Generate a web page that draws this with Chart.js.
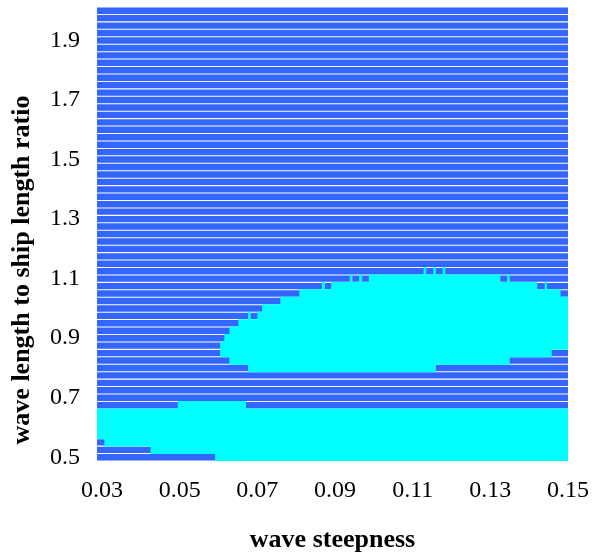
<!DOCTYPE html>
<html>
<head>
<meta charset="utf-8">
<script src="https://cdn.jsdelivr.net/npm/chart.js@4/dist/chart.umd.min.js"></script>
<style>
  html, body { margin: 0; padding: 0; background: #fff; }
  #wrap { width: 595px; height: 552px; }
</style>
</head>
<body>
<div id="wrap"><canvas id="grafico" width="595" height="552"></canvas></div>
<script>
'use strict';

// assi
const xTicks = [0.03, 0.05, 0.07, 0.09, 0.11, 0.13, 0.15];
const yTicks = [0.5, 0.7, 0.9, 1.1, 1.3, 1.5, 1.7, 1.9];
const xRange = [0.0287, 0.15];
const yRange = [0.4875, 2.0125];
const xTitle = 'wave steepness';
const yTitle = 'wave length to ship length ratio';

// righe della griglia (wave length / ship length)
const lambdaRows = [
  0.5, 0.525, 0.55, 0.575, 0.6, 0.625, 0.65, 0.675, 0.7, 0.725,
  0.75, 0.775, 0.8, 0.825, 0.85, 0.875, 0.9, 0.925, 0.95, 0.975,
  1.0, 1.025, 1.05, 1.075, 1.1, 1.125, 1.15, 1.175, 1.2, 1.225,
  1.25, 1.275, 1.3, 1.325, 1.35, 1.375, 1.4, 1.425, 1.45, 1.475,
  1.5, 1.525, 1.55, 1.575, 1.6, 1.625, 1.65, 1.675, 1.7, 1.725,
  1.75, 1.775, 1.8, 1.825, 1.85, 1.875, 1.9, 1.925, 1.95, 1.975, 2.0
];

// tratti ciano: [riga, steepness inizio, steepness fine]
const cyanRuns = [
  [0.5, 0.0591, 0.15],
  [0.525, 0.0425, 0.15],
  [0.55, 0.0306, 0.15],
  [0.575, 0.0287, 0.15],
  [0.6, 0.0287, 0.15],
  [0.625, 0.0287, 0.15],
  [0.65, 0.0287, 0.15],
  [0.675, 0.0495, 0.0671],
  [0.8, 0.0676, 0.1160],
  [0.825, 0.0628, 0.1350],
  [0.85, 0.0604, 0.1458],
  [0.875, 0.0604, 0.15],
  [0.9, 0.0615, 0.15],
  [0.925, 0.0628, 0.15],
  [0.95, 0.0651, 0.15],
  [0.975, 0.0676, 0.0683],
  [0.975, 0.0700, 0.15],
  [1.0, 0.0712, 0.15],
  [1.025, 0.0759, 0.15],
  [1.05, 0.0808, 0.1481],
  [1.075, 0.0866, 0.0874],
  [1.075, 0.0890, 0.1421],
  [1.075, 0.1440, 0.1446],
  [1.1, 0.0938, 0.0945],
  [1.1, 0.0962, 0.0970],
  [1.1, 0.0987, 0.1326],
  [1.1, 0.1343, 0.1350],
  [1.125, 0.1128, 0.1135],
  [1.125, 0.1153, 0.1160],
  [1.125, 0.1177, 0.1184]
];

const FONT = "'Liberation Serif', 'Times New Roman', serif";

// titolo asse y: nel riferimento e' spostato verso il basso rispetto al centro
const yTitlePlugin = {
  id: 'yTitle',
  afterDraw(chart) {
    const { ctx, chartArea } = chart;
    ctx.save();
    ctx.translate(22, (chartArea.top + chartArea.bottom) / 2 + 36);
    ctx.rotate(-Math.PI / 2);
    ctx.font = 'bold 26px ' + FONT;
    ctx.fillStyle = '#000';
    ctx.textAlign = 'center';
    ctx.textBaseline = 'middle';
    ctx.fillText(yTitle, 0, 0);
    ctx.restore();
  }
};

const ctx = document.getElementById('grafico').getContext('2d');

new Chart(ctx, {
  type: 'bar',
  data: {
    datasets: [
      {
        label: 'cyan',
        data: cyanRuns.map(r => ({ y: r[0], x: [r[1], r[2]] })),
        backgroundColor: '#00ffff',
        grouped: false,
        categoryPercentage: 1,
        barPercentage: 1.12
      },
      {
        label: 'blue',
        data: lambdaRows.map(r => ({ y: r, x: [xRange[0], xRange[1]] })),
        backgroundColor: '#3366ff',
        grouped: false,
        categoryPercentage: 1,
        barPercentage: 0.86
      }
    ]
  },
  plugins: [yTitlePlugin],
  options: {
    indexAxis: 'y',
    responsive: false,
    animation: false,
    layout: { padding: { left: 0, top: 7, right: 27, bottom: 0 } },
    plugins: { legend: { display: false }, tooltip: { enabled: false } },
    scales: {
      x: {
        type: 'linear',
        offset: false,
        min: xRange[0], max: xRange[1],
        afterBuildTicks: axis => { axis.ticks = xTicks.map(v => ({ value: v })); },
        afterFit: axis => { axis.height = 91; axis.paddingLeft = 0; axis.paddingRight = 0; },
        grid: { display: false, drawTicks: false, offset: false },
        border: { display: false },
        ticks: {
          color: '#000', padding: 15,
          font: { family: FONT, size: 24 },
          maxRotation: 0, autoSkip: false,
          callback: v => Number(v).toFixed(2)
        },
        title: {
          display: true, text: xTitle, color: '#000',
          font: { family: FONT, size: 26, weight: 'bold' },
          padding: { top: 0, bottom: -4 }
        }
      },
      y: {
        type: 'linear',
        offset: false,
        min: yRange[0], max: yRange[1],
        afterBuildTicks: axis => { axis.ticks = yTicks.map(v => ({ value: v })); },
        afterFit: axis => { axis.width = 97; axis.paddingTop = 0; axis.paddingBottom = 0; },
        grid: { display: false, drawTicks: false, offset: false },
        border: { display: false },
        ticks: {
          color: '#000', padding: 17,
          font: { family: FONT, size: 24 },
          autoSkip: false,
          callback: v => Number(v).toFixed(1)
        },
        title: { display: false }
      }
    }
  }
});
</script>
</body>
</html>
